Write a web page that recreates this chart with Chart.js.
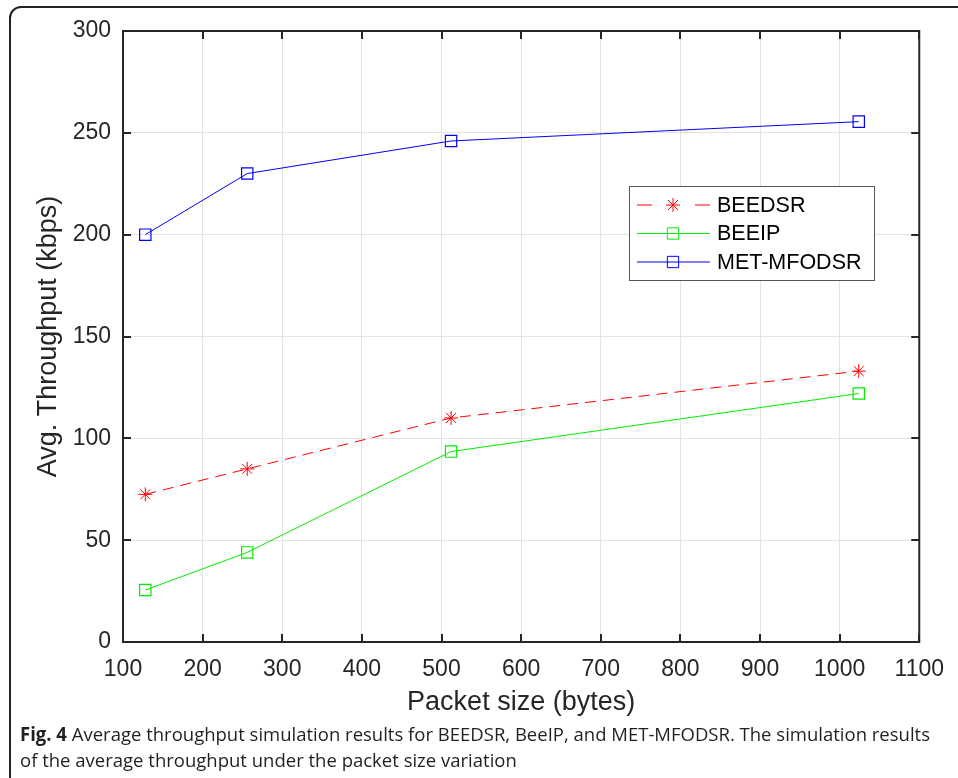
<!DOCTYPE html>
<html>
<head>
<meta charset="utf-8">
<script src="https://cdn.jsdelivr.net/npm/chart.js@4/dist/chart.umd.min.js"></script>
<style>
  html, body { margin: 0; padding: 0; background: #fff; }
  #wrap { position: relative; width: 958px; height: 778px; overflow: hidden; }
  #frame {
    position: absolute; left: 9px; top: 6px; width: 970px; height: 800px;
    border: 2px solid #222; border-radius: 12px; box-sizing: border-box;
  }
  canvas { position: absolute; left: 0; top: 0; }
  #caption {
    position: absolute; left: 20px; top: 721px;
    font-family: "Open Sans", sans-serif; font-size: 19px; line-height: 26px;
    color: #231f20; white-space: nowrap;
  }
  #caption div { transform-origin: 0 0; }
  #caption b { font-weight: 700; }
</style>
</head>
<body>
<div id="wrap">
  <div id="frame"></div>
  <canvas id="chart" width="958" height="778"></canvas>
  <div id="caption">
    <div id="cap1"><b>Fig. 4</b> Average throughput simulation results for BEEDSR, BeeIP, and MET-MFODSR. The simulation results</div>
    <div id="cap2">of the average throughput under the packet size variation</div>
  </div>
</div>
<script>
/* ================= DATA ================= */
const packetSizes = [128, 256, 512, 1024];
const beedsr = [72.5, 85, 110, 133];
const beeip = [25.5, 44, 93.5, 122];
const metMfodsr = [200, 230, 246, 255.5];
const xTicks = [100, 200, 300, 400, 500, 600, 700, 800, 900, 1000, 1100];
const yTicks = [0, 50, 100, 150, 200, 250, 300];

const axisColor = "#262626";
const gridColor = "#e3e3e3";
const fontFam = "'Liberation Sans', Arial, sans-serif";

function toPoints(vals) {
  return vals.map((v, i) => ({ x: packetSizes[i], y: v }));
}

/* ================= CAPTION WIDTH ================= */
// the caption font in the figure is condensed, squeeze to the same line width
const cap1 = document.getElementById("cap1");
const cap2 = document.getElementById("cap2");
const squeeze = 910 / cap1.getBoundingClientRect().width;
cap1.style.transform = `scaleX(${squeeze})`;
cap2.style.transform = `scaleX(${squeeze})`;

/* ================= BOX + INWARD TICKS ================= */
const boxPlugin = {
  id: "box",
  afterDatasetsDraw(chart) {
    const { ctx, chartArea: a, scales } = chart;
    ctx.save();
    ctx.strokeStyle = axisColor;
    ctx.lineWidth = 2;
    ctx.beginPath();
    xTicks.forEach(v => {
      const px = Math.round(scales.x.getPixelForValue(v));
      ctx.moveTo(px, a.bottom); ctx.lineTo(px, a.bottom - 8);
      ctx.moveTo(px, a.top); ctx.lineTo(px, a.top + 8);
    });
    yTicks.forEach(v => {
      const py = Math.round(scales.y.getPixelForValue(v));
      ctx.moveTo(a.left, py); ctx.lineTo(a.left + 8, py);
      ctx.moveTo(a.right, py); ctx.lineTo(a.right - 8, py);
    });
    ctx.stroke();
    ctx.strokeRect(a.left, a.top, a.right - a.left, a.bottom - a.top);
    ctx.restore();
  }
};

/* ================= LEGEND ================= */
const legendPlugin = {
  id: "boxLegend",
  afterDraw(chart) {
    const ctx = chart.ctx;
    const x0 = 629, y0 = 186, w = 245, h = 94;
    ctx.save();
    ctx.fillStyle = "#fff";
    ctx.fillRect(x0, y0, w, h);
    ctx.strokeStyle = "#555";
    ctx.lineWidth = 1;
    ctx.strokeRect(x0 + 0.5, y0 + 0.5, w, h);
    ctx.font = "21.5px " + fontFam;
    ctx.textBaseline = "middle";
    chart.data.datasets.forEach((ds, i) => {
      const y = y0 + 19 + i * 28.5;
      ctx.strokeStyle = ds.borderColor;
      ctx.lineWidth = 1;
      ctx.beginPath();
      if (ds.borderDash) {
        ctx.moveTo(637, y); ctx.lineTo(652, y);
        ctx.moveTo(695, y); ctx.lineTo(710, y);
      } else {
        ctx.moveTo(637, y); ctx.lineTo(710, y);
      }
      ctx.stroke();
      const cx = 673;
      ctx.beginPath();
      if (ds.pointStyle === "star") {
        const r = ds.pointRadius;
        for (let k = 0; k < 4; k++) {
          const ang = k * Math.PI / 4;
          ctx.moveTo(cx - r * Math.cos(ang), y - r * Math.sin(ang));
          ctx.lineTo(cx + r * Math.cos(ang), y + r * Math.sin(ang));
        }
      } else {
        const s = ds.pointRadius * Math.SQRT1_2;
        ctx.rect(cx - s, y - s, 2 * s, 2 * s);
      }
      ctx.stroke();
      ctx.fillStyle = "#000";
      ctx.fillText(ds.label, 717, y + 1);
    });
    ctx.restore();
  }
};

/* ================= CHART ================= */
new Chart(document.getElementById("chart"), {
  type: "line",
  data: {
    datasets: [
      {
        label: "BEEDSR",
        data: toPoints(beedsr),
        borderColor: "#ff0000",
        borderWidth: 1,
        borderDash: [11, 7],
        pointStyle: "star",
        pointRadius: 7,
        pointBorderColor: "#ff0000",
        pointBorderWidth: 1,
        pointBackgroundColor: "#ff0000"
      },
      {
        label: "BEEIP",
        data: toPoints(beeip),
        borderColor: "#00ee00",
        borderWidth: 1,
        pointStyle: "rect",
        pointRadius: 8,
        pointBorderColor: "#00ee00",
        pointBorderWidth: 1.2,
        pointBackgroundColor: "rgba(0,0,0,0)"
      },
      {
        label: "MET-MFODSR",
        data: toPoints(metMfodsr),
        borderColor: "#0000ff",
        borderWidth: 1,
        pointStyle: "rect",
        pointRadius: 8,
        pointBorderColor: "#0000ff",
        pointBorderWidth: 1.2,
        pointBackgroundColor: "rgba(0,0,0,0)"
      }
    ]
  },
  options: {
    responsive: false,
    animation: false,
    layout: { padding: { left: 20, top: 31, right: 38, bottom: 58 } },
    plugins: { legend: { display: false }, tooltip: { enabled: false } },
    scales: {
      x: {
        type: "linear",
        min: 100, max: 1100,
        afterBuildTicks: s => { s.ticks = xTicks.map(v => ({ value: v })); },
        afterFit: s => { s.height = 78; },
        grid: { color: gridColor, lineWidth: 1, drawTicks: false },
        border: { display: false },
        ticks: {
          color: axisColor, padding: 14,
          callback: v => String(v),
          font: { family: fontFam, size: 23 }
        },
        title: {
          display: true, text: "Packet size (bytes)", color: axisColor,
          padding: { top: 0, bottom: 1 },
          font: { family: fontFam, size: 27 }
        }
      },
      y: {
        min: 0, max: 300,
        afterBuildTicks: s => { s.ticks = yTicks.map(v => ({ value: v })); },
        afterFit: s => { s.width = 103; },
        grid: { color: gridColor, lineWidth: 1, drawTicks: false },
        border: { display: false },
        ticks: {
          color: axisColor, padding: 12,
          callback: v => String(v),
          font: { family: fontFam, size: 23 }
        },
        title: {
          display: true, text: "Avg. Throughput (kbps)", color: axisColor,
          padding: { top: 12, bottom: 0 },
          font: { family: fontFam, size: 27 }
        }
      }
    }
  },
  plugins: [boxPlugin, legendPlugin]
});
</script>
</body>
</html>
